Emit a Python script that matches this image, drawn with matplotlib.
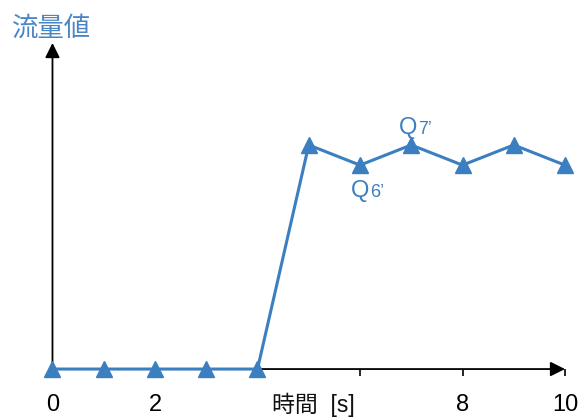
import matplotlib
matplotlib.use("Agg")
import matplotlib.pyplot as plt

plt.rcParams['font.family'] = ['Liberation Sans', 'Noto Sans CJK JP', 'DejaVu Sans']

# flow values over time
time_s = [0, 1, 2, 3, 4, 5, 6, 7, 8, 9, 10]
flow = [0, 0, 0, 0, 0, 1.0, 0.91, 1.0, 0.91, 1.0, 0.91]
tick_pos = [0, 2, 4, 6, 8, 10]
tick_labels = ['0', '2', '', '', '8', '10']
y_label = '流量値'
x_label = '時間  [s]'

blue = '#3b7fc1'

fig = plt.figure(figsize=(5.81, 4.17), dpi=100)
ax = fig.add_axes([0, 0, 1, 1])
ax.set_xlim(-1.024, 10.312)
ax.set_ylim(-0.214, 1.647)

for s in ax.spines.values():
    s.set_visible(False)
ax.spines['bottom'].set_position(('data', 0))
ax.spines['left'].set_position(('data', 0))

# axes with arrowheads
ax.annotate('', xy=(10.0, 0), xytext=(0, 0),
            arrowprops=dict(arrowstyle='-|>', color='black', lw=1.3,
                            mutation_scale=22, shrinkA=0, shrinkB=0), zorder=1)
ax.annotate('', xy=(0, 1.455), xytext=(0, 0),
            arrowprops=dict(arrowstyle='-|>', color='black', lw=1.3,
                            mutation_scale=22, shrinkA=0, shrinkB=0), zorder=1)

ax.set_xticks(tick_pos)
ax.set_xticklabels(tick_labels)
ax.tick_params(axis='x', direction='out', length=5, width=1.2, color='black',
               labelsize=17, pad=13)
ax.set_yticks([])

ax.plot(time_s, flow, color=blue, lw=2.2, marker='^', markersize=11, zorder=3,
        clip_on=False)

ax.text(5.1, -0.19, x_label, fontsize=16.5, ha='center', va='baseline', color='#111111')
ax.text(-0.80, 1.52, y_label, fontsize=19, ha='left', va='center', color='#4a86c5')

# point annotations
ax.text(7.12, 1.05, 'Q', fontsize=17, ha='right', va='baseline', color=blue)
ax.text(7.14, 1.05, '7’', fontsize=13, ha='left', va='baseline', color=blue)
ax.text(6.18, 0.77, 'Q', fontsize=17, ha='right', va='baseline', color=blue)
ax.text(6.20, 0.77, '6’', fontsize=13, ha='left', va='baseline', color=blue)

fig.savefig('out.png', dpi=100)
